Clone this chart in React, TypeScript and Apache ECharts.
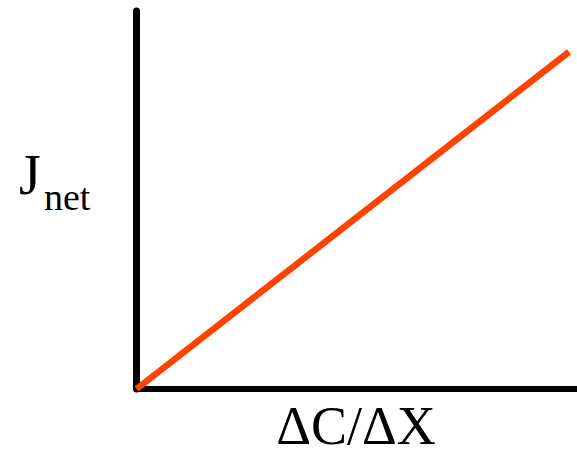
import React, { useEffect, useRef } from "react";
import * as echarts from "echarts";

const xRange = [0, 100];
const yRange = [0, 100];
const lineX = [0, 98.2];
const lineY = [0, 89.2];
const yLabelMain = "J";
const yLabelSub = "net";
const xLabel = "ΔC/ΔX";

export default function App() {
  const ref = useRef<HTMLDivElement>(null);
  useEffect(() => {
    document.body.style.margin = "0";
    const chart = echarts.init(ref.current!, null, { renderer: "svg" });
    const family = "Liberation Serif";
    chart.setOption({
      animation: false,
      backgroundColor: "#ffffff",
      grid: { left: 136.5, right: 0, top: 11, bottom: 60, containLabel: false },
      xAxis: {
        type: "value",
        min: xRange[0],
        max: xRange[1],
        axisLine: { show: true, onZero: false, lineStyle: { color: "#000", width: 6 } },
        axisTick: { show: false },
        axisLabel: { show: false },
        splitLine: { show: false },
      },
      yAxis: {
        type: "value",
        min: yRange[0],
        max: yRange[1],
        axisLine: { show: true, onZero: false, lineStyle: { color: "#000", width: 7 } },
        axisTick: { show: false },
        axisLabel: { show: false },
        splitLine: { show: false },
      },
      series: [
        {
          type: "line",
          data: lineX.map((x, i) => [x, lineY[i]]),
          showSymbol: false,
          symbol: "none",
          lineStyle: { color: "#ff4200", width: 6.5 },
          z: 3,
        },
      ],
      graphic: [
        {
          type: "text",
          x: 19,
          y: 175,
          style: {
            text: yLabelMain,
            fontFamily: family,
            fontSize: 56,
            fill: "#000",
            textAlign: "left",
            textVerticalAlign: "middle",
          },
        },
        {
          type: "text",
          x: 44,
          y: 197,
          style: {
            text: yLabelSub,
            fontFamily: family,
            fontSize: 38,
            fill: "#000",
            textAlign: "left",
            textVerticalAlign: "middle",
          },
        },
        {
          type: "text",
          x: 356,
          y: 426,
          style: {
            text: xLabel,
            fontFamily: family,
            fontSize: 54,
            fill: "#000",
            textAlign: "center",
            textVerticalAlign: "middle",
          },
        },
      ],
    });
    return () => chart.dispose();
  }, []);
  return (
    <div
      ref={ref}
      style={{ position: "absolute", left: 0, top: 0, width: 577, height: 449 }}
    />
  );
}
